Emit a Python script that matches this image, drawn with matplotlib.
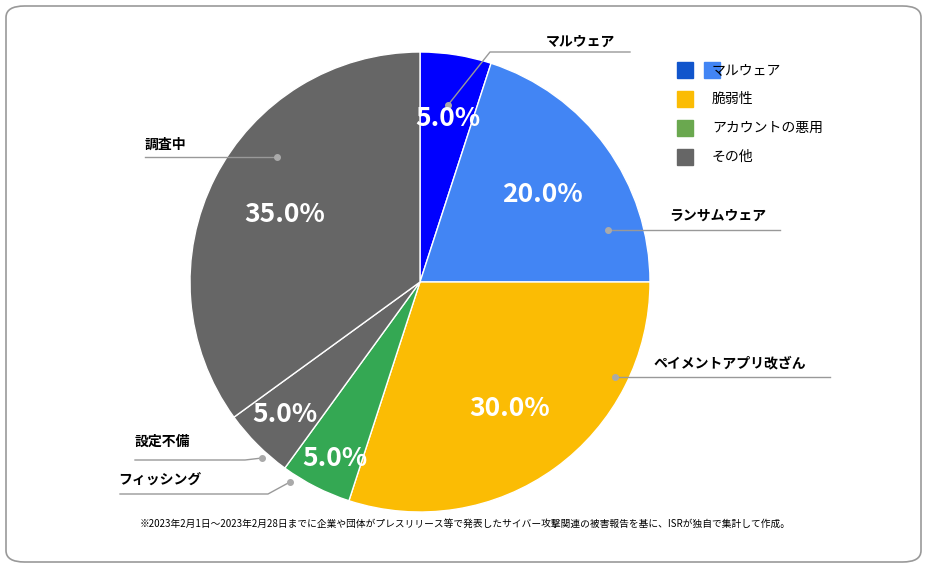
import matplotlib
matplotlib.use("Agg")
import matplotlib.pyplot as plt
from matplotlib.patches import FancyBboxPatch, Rectangle

plt.rcParams["font.family"] = "Noto Sans CJK JP"

categories = ["マルウェア", "ランサムウェア", "ペイメントアプリ改ざん", "フィッシング", "設定不備", "調査中"]
values = [5.0, 20.0, 30.0, 5.0, 5.0, 35.0]
colors = ["#0000ff", "#4285f4", "#fbbc04", "#34a853", "#666666", "#666666"]
legend_labels = ["マルウェア", "脆弱性", "アカウントの悪用", "その他"]
legend_colors = [["#1155cc", "#4285f4"], ["#fbbc04"], ["#6aa84f"], ["#666666"]]
note = "※2023年2月1日～2023年2月28日までに企業や団体がプレスリリース等で発表したサイバー攻撃関連の被害報告を基に、ISRが独自で集計して作成。"

W, H = 927, 568
fig = plt.figure(figsize=(W/100, H/100), dpi=100)
fig.patches.append(FancyBboxPatch((6/W, 6/H), 1-12/W, 1-12/H, boxstyle="round,pad=0,rounding_size=0.02",
                                  transform=fig.transFigure, fill=False, ec="#999999", lw=1.2))
cx, cy, R = 420, 282, 230
ax = fig.add_axes([(cx-R)/W, (H-cy-R)/H, 2*R/W, 2*R/H])
ax.pie(values, colors=colors, startangle=90, counterclock=False,
       wedgeprops=dict(edgecolor="white", linewidth=1))
ax.set_xlim(-1, 1); ax.set_ylim(-1, 1); ax.set_aspect("auto")

def d(px, py):
    return ((px-cx)/R, (cy-py)/R)

pct_pos = [(448, 118), (542, 195), (510, 408), (335, 458), (285, 415), (285, 215)]
for v, (px, py) in zip(values, pct_pos):
    x, y = d(px, py)
    ax.text(x, y, f"{v:.1f}%", color="white", fontsize=19, fontweight="bold",
            ha="center", va="center", clip_on=False)

leaders = [
    ([(448, 105), (490, 52), (630, 52)], (580, 42), "マルウェア"),
    ([(608, 230), (780, 230)], (718, 216), "ランサムウェア"),
    ([(615, 377), (830, 377)], (730, 363), "ペイメントアプリ改ざん"),
    ([(277, 157), (145, 157)], (165, 145), "調査中"),
    ([(262, 458), (245, 460), (135, 460)], (162, 442), "設定不備"),
    ([(290, 482), (268, 494), (120, 494)], (160, 481), "フィッシング"),
]
for pts, (tx, ty), lab in leaders:
    xs = [d(*p)[0] for p in pts]; ys = [d(*p)[1] for p in pts]
    ax.plot(xs, ys, color="#999999", lw=1, clip_on=False)
    ax.plot(xs[0], ys[0], "o", color="#aaaaaa", ms=4, clip_on=False)
    x, y = d(tx, ty)
    ax.text(x, y, lab, fontsize=10, fontweight="bold", ha="center", va="center", clip_on=False)

# legend
for i, (lab, cols) in enumerate(zip(legend_labels, legend_colors)):
    py = 70 + i*29
    for j, c in enumerate(cols):
        fig.patches.append(Rectangle(((677+j*27)/W, (H-py-8)/H), 16/W, 16/H,
                                     transform=fig.transFigure, color=c))
    fig.text(712/W, (H-py)/H, lab, fontsize=10, va="center")

fig.text(465/W, (H-524)/H, note, fontsize=7, ha="center", va="center")
fig.savefig("out.png", dpi=100)
